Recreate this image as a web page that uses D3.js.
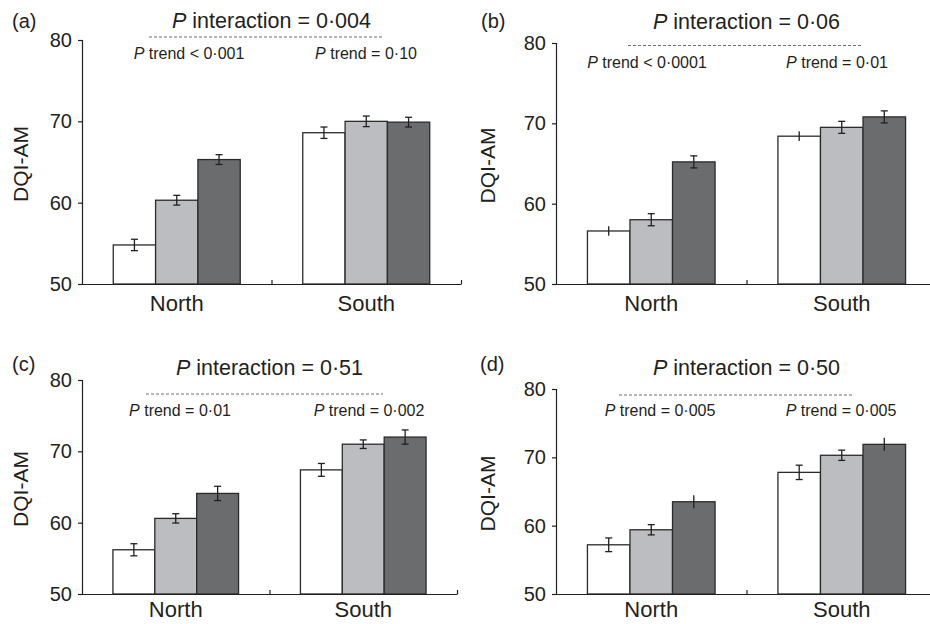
<!DOCTYPE html>
<html>
<head>
<meta charset="utf-8">
<script src="https://cdn.jsdelivr.net/npm/d3@7"></script>
<style>
  body { margin: 0; background: #fff; }
  text { font-family: "Liberation Sans", Arial, Helvetica, sans-serif; fill: #231f20; }
</style>
</head>
<body>
<div id="chart"></div>
<script>
// data
var panelLabels = ["(a)", "(b)", "(c)", "(d)"];
var regions = ["North", "South"];
var yTicks = [50, 60, 70, 80];

var northMeans = [[54.8, 60.3, 65.3], [56.6, 58.0, 65.2], [56.2, 60.6, 64.1], [57.2, 59.4, 63.5]];
var southMeans = [[68.6, 70.0, 69.9], [68.4, 69.5, 70.8], [67.4, 71.0, 72.0], [67.8, 70.3, 71.9]];
var northErr = [[0.7, 0.6, 0.6], [0.6, 0.75, 0.75], [0.85, 0.65, 1.0], [1.0, 0.75, 0.95]];
var southErr = [[0.7, 0.65, 0.6], [0.6, 0.75, 0.75], [0.9, 0.6, 1.0], [1.05, 0.75, 0.95]];
// some bars in the original have no end caps on the error bar
var northCaps = [[1, 1, 1], [0, 1, 1], [1, 1, 1], [1, 1, 0]];
var southCaps = [[1, 1, 1], [0, 1, 1], [1, 1, 1], [1, 1, 0]];

var interactionP = ["0·004", "0·06", "0·51", "0·50"];
var trendNorth = ["< 0·001", "< 0·0001", "= 0·01", "= 0·005"];
var trendSouth = ["= 0·10", "= 0·01", "= 0·002", "= 0·005"];

var barColors = ["#ffffff", "#bcbdc0", "#6b6c6e"];

// layout of each panel (pixels)
var layout = [
    {x0: 82, x1: 461, yTop: 40, yBot: 284, lab: [12, 28], inter: 28, dash: [149, 382, 37], trend: [189, 366, 59], catY: 311, yTitleX: 28},
    {x0: 556, x1: 937, yTop: 43, yBot: 284, lab: [481, 28], inter: 29, dash: [628, 862, 45.5], trend: [647, 837, 68], catY: 311, yTitleX: 495},
    {x0: 82, x1: 457, yTop: 380, yBot: 594, lab: [12, 371], inter: 375, dash: [146, 383, 394], trend: [180, 369, 416], catY: 617, yTitleX: 28},
    {x0: 556, x1: 937, yTop: 389, yBot: 594, lab: [480, 371], inter: 375, dash: [619, 852, 395], trend: [660, 841, 416], catY: 617, yTitleX: 495}
];

var width = 930, height = 624;

var svg = d3.select("#chart").append("svg")
    .attr("width", width)
    .attr("height", height);

layout.forEach(function (L, i) {
    var g = svg.append("g");

    var y = d3.scaleLinear().domain([50, 80]).range([L.yBot, L.yTop]);
    var x = d3.scaleBand().domain(regions).range([L.x0, L.x1]).padding(0);
    var bw = x.bandwidth();
    var groupW = bw * 0.67;
    var xs = d3.scaleBand().domain([0, 1, 2])
        .range([(bw - groupW) / 2, (bw + groupW) / 2]).padding(0);

    var rows = [];
    regions.forEach(function (r, ri) {
        var means = ri === 0 ? northMeans[i] : southMeans[i];
        var errs = ri === 0 ? northErr[i] : southErr[i];
        var caps = ri === 0 ? northCaps[i] : southCaps[i];
        means.forEach(function (m, k) {
            rows.push({region: r, k: k, mean: m, err: errs[k], cap: caps[k]});
        });
    });

    // bars
    g.selectAll("rect.bar")
        .data(rows)
        .enter()
        .append("rect")
        .attr("class", "bar")
        .attr("x", function (d) { return x(d.region) + xs(d.k); })
        .attr("y", function (d) { return y(d.mean); })
        .attr("width", xs.bandwidth())
        .attr("height", function (d) { return y(50) - y(d.mean); })
        .style("fill", function (d) { return barColors[d.k]; })
        .style("stroke", "#2b2b2b")
        .style("stroke-width", 1.3);

    // error bars
    var eb = g.selectAll("g.err")
        .data(rows)
        .enter()
        .append("g")
        .attr("class", "err")
        .attr("transform", function (d) {
            return "translate(" + (x(d.region) + xs(d.k) + xs.bandwidth() / 2) + ",0)";
        })
        .style("stroke", "#231f20")
        .style("stroke-width", 1.3);

    eb.append("line")
        .attr("y1", function (d) { return y(d.mean - d.err); })
        .attr("y2", function (d) { return y(d.mean + d.err); });
    eb.filter(function (d) { return d.cap; }).append("line")
        .attr("x1", -3.5).attr("x2", 3.5)
        .attr("y1", function (d) { return y(d.mean - d.err); })
        .attr("y2", function (d) { return y(d.mean - d.err); });
    eb.filter(function (d) { return d.cap; }).append("line")
        .attr("x1", -3.5).attr("x2", 3.5)
        .attr("y1", function (d) { return y(d.mean + d.err); })
        .attr("y2", function (d) { return y(d.mean + d.err); });

    // y axis
    var yAxis = g.append("g")
        .attr("transform", "translate(" + L.x0 + ",0)")
        .call(d3.axisLeft(y).tickValues(yTicks).tickSize(4).tickPadding(6));
    yAxis.selectAll("path, line").style("stroke", "#231f20").style("stroke-width", 1.2);
    yAxis.selectAll("text")
        .style("font-size", "20px")
        .style("font-family", "'Liberation Sans', Arial, sans-serif")
        .style("fill", "#231f20");

    // x axis: baseline with small upward ticks between and after the groups
    var xl = d3.scaleLinear().domain([0, 2]).range([L.x0, L.x1]);
    var xAxis = g.append("g")
        .attr("transform", "translate(0," + L.yBot + ")")
        .call(d3.axisBottom(xl).tickValues([1, 2]).tickSize(-4).tickSizeOuter(0).tickFormat(""));
    xAxis.selectAll("path, line").style("stroke", "#231f20").style("stroke-width", 1.2);

    g.selectAll("text.cat")
        .data(regions)
        .enter()
        .append("text")
        .attr("class", "cat")
        .attr("x", function (d) { return x(d) + bw / 2; })
        .attr("y", L.catY)
        .attr("text-anchor", "middle")
        .style("font-size", "22px")
        .text(function (d) { return d; });

    // y title
    g.append("text")
        .attr("transform", "translate(" + L.yTitleX + "," + ((L.yTop + L.yBot) / 2 + 2) + ") rotate(-90)")
        .attr("text-anchor", "middle")
        .style("font-size", "21px")
        .text("DQI-AM");

    // panel letter
    g.append("text")
        .attr("x", L.lab[0])
        .attr("y", L.lab[1])
        .style("font-size", "20px")
        .text(panelLabels[i]);

    // P interaction
    var it = g.append("text")
        .attr("x", (L.x0 + L.x1) / 2)
        .attr("y", L.inter)
        .attr("text-anchor", "middle")
        .style("font-size", "21.5px");
    it.append("tspan").style("font-style", "italic").text("P");
    it.append("tspan").text(" interaction = " + interactionP[i]);

    g.append("line")
        .attr("x1", L.dash[0]).attr("x2", L.dash[1])
        .attr("y1", L.dash[2]).attr("y2", L.dash[2])
        .style("stroke", "#6d6e70")
        .style("stroke-width", 1)
        .style("stroke-dasharray", "3, 2");

    // P trend labels
    [trendNorth[i], trendSouth[i]].forEach(function (t, j) {
        var tt = g.append("text")
            .attr("x", L.trend[j])
            .attr("y", L.trend[2])
            .attr("text-anchor", "middle")
            .style("font-size", "16px");
        tt.append("tspan").style("font-style", "italic").text("P");
        tt.append("tspan").text(" trend " + t);
    });
});
</script>
</body>
</html>
